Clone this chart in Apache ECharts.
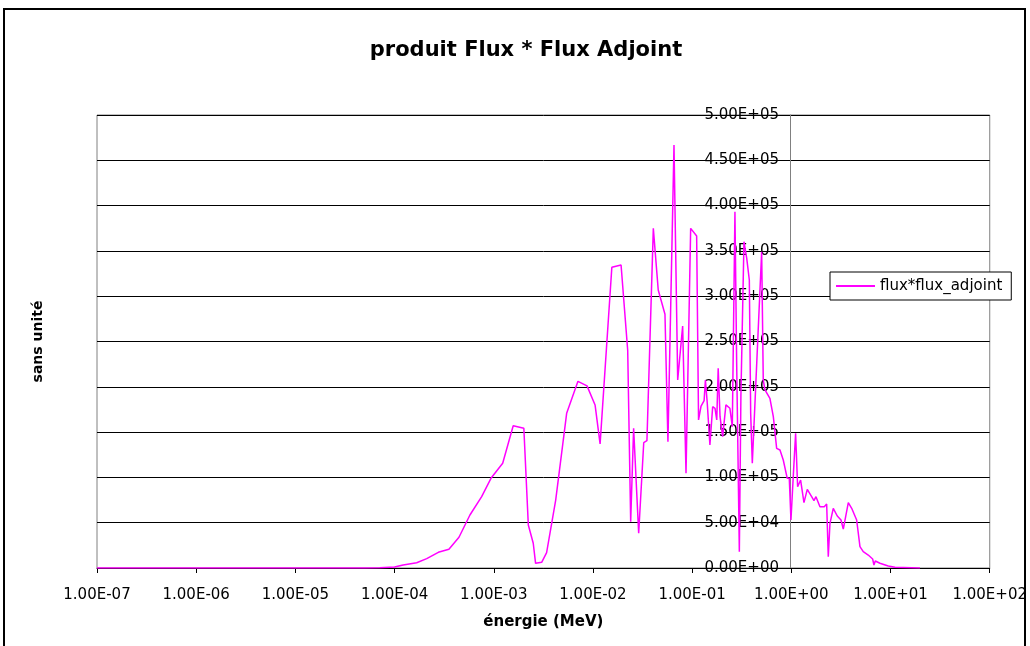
<!DOCTYPE html>
<html>
<head>
<meta charset="utf-8">
<script src="https://cdn.jsdelivr.net/npm/echarts@6/dist/echarts.min.js"></script>
<style>
html,body{margin:0;padding:0;background:#fff;}
#chart{width:1030px;height:646px;}
</style>
</head>
<body>
<div id="chart"></div>
<script>
// Energy (MeV) of each point
const energies = [
  1e-7, 1e-6, 1e-5, 5e-5, 7.1e-5, 1.0e-4, 1.22e-4, 1.67e-4, 2.11e-4, 2.76e-4,
  3.53e-4, 4.46e-4, 5.75e-4, 7.55e-4, 9.37e-4, 1.23e-3, 1.57e-3, 2.01e-3, 2.23e-3, 2.50e-3,
  2.64e-3, 3.04e-3, 3.41e-3, 4.21e-3, 5.43e-3, 7.06e-3, 8.71e-3, 1.05e-2, 1.18e-2, 1.55e-2,
  1.92e-2, 2.24e-2, 2.40e-2, 2.57e-2, 2.89e-2, 3.25e-2, 3.50e-2, 4.06e-2, 4.55e-2, 5.32e-2,
  5.70e-2, 6.56e-2, 7.15e-2, 8.02e-2, 8.67e-2, 9.66e-2, 0.111, 0.116, 0.123, 0.132,
  0.136, 0.142, 0.151, 0.161, 0.170, 0.177, 0.183, 0.191, 0.203, 0.219,
  0.240, 0.254, 0.270, 0.281, 0.299, 0.310, 0.333, 0.355, 0.377, 0.389,
  0.404, 0.502, 0.521, 0.542, 0.608, 0.658, 0.711, 0.768, 0.829, 0.909,
  0.953, 0.991, 1.045, 1.104, 1.157, 1.240, 1.340, 1.447, 1.602, 1.690,
  1.771, 1.942, 2.147, 2.270, 2.357, 2.451, 2.646, 2.752, 2.904, 3.166,
  3.340, 3.751, 4.057, 4.553, 4.917, 5.307, 5.961, 6.600, 6.804, 7.015,
  7.825, 9.48, 11.07, 19.8
];
// flux*flux_adjoint values
const fluxProduct = [
  0, 0, 0, 0, 300, 1200, 3300, 5800, 10300, 17300,
  20600, 33900, 58500, 78700, 99000, 115600, 157000, 154200, 47500, 27300,
  5200, 6300, 16900, 75000, 170700, 206000, 201000, 180000, 137000, 331900,
  334400, 240000, 51100, 154200, 38300, 138300, 140500, 374900, 306800, 280000,
  139400, 466900, 207500, 267100, 104500, 374900, 366400, 163400, 178800, 184700,
  207500, 181800, 135800, 178000, 176300, 163400, 220400, 167000, 145000, 180000,
  176300, 156000, 393300, 226000, 18000, 189000, 360200, 341800, 317900, 170700,
  115600, 349100, 207500, 196500, 187300, 167000, 132100, 130200, 119200, 99000,
  99000, 53000, 100800, 148600, 89700, 97100, 72100, 86800, 78700, 74300,
  78700, 67700, 67700, 70600, 12500, 49300, 65900, 65900, 57400, 53000,
  43000, 72100, 65900, 53000, 23500, 18000, 14300, 9900, 3300, 7700,
  5200, 2200, 800, 0
];
const xTickLabels = ['1.00E-07','1.00E-06','1.00E-05','1.00E-04','1.00E-03','1.00E-02','1.00E-01','1.00E+00','1.00E+01','1.00E+02'];
const yTickLabels = ['0.00E+00','5.00E+04','1.00E+05','1.50E+05','2.00E+05','2.50E+05','3.00E+05','3.50E+05','4.00E+05','4.50E+05','5.00E+05'];
const seriesName = 'flux*flux_adjoint';
const titleText = 'produit Flux * Flux Adjoint';
const xName = 'énergie (MeV)';
const yName = 'sans unité';

const seriesData = energies.map((e, i) => [e, fluxProduct[i]]);

const chart = echarts.init(document.getElementById('chart'), null, {renderer: 'canvas'});
chart.setOption({
  animation: false,
  backgroundColor: '#fff',
  title: {
    text: titleText,
    left: 521,
    top: 35,
    textAlign: 'center',
    textStyle: {fontFamily: 'DejaVu Sans', fontWeight: 'bold', fontSize: 21, color: '#000'}
  },
  graphic: [{
    type: 'rect',
    z: -1,
    shape: {x: 4, y: 9, width: 1021, height: 700},
    style: {fill: 'none', stroke: '#000', lineWidth: 2}
  }],
  legend: {
    left: 830,
    top: 272,
    padding: [6, 9, 6, 6],
    icon: 'rect',
    itemWidth: 39,
    itemHeight: 2,
    itemGap: 5,
    backgroundColor: '#fff',
    borderColor: '#000',
    borderWidth: 1,
    textStyle: {fontFamily: 'DejaVu Sans', fontSize: 15, color: '#000', lineHeight: 16},
    data: [seriesName]
  },
  grid: {
    left: 97, right: 40, top: 115, bottom: 78,
    show: true, borderColor: '#808080', borderWidth: 1, backgroundColor: 'transparent'
  },
  xAxis: {
    type: 'log',
    logBase: 10,
    min: 1e-7,
    max: 1e2,
    interval: 1,
    name: xName,
    nameLocation: 'middle',
    nameGap: 54,
    nameMoveOverlap: false,
    nameTextStyle: {fontFamily: 'DejaVu Sans', fontWeight: 'bold', fontSize: 15, color: '#000', verticalAlign: 'middle'},
    axisLine: {lineStyle: {color: '#000', width: 1}},
    axisTick: {show: true, length: 5, lineStyle: {color: '#000'}},
    minorTick: {show: false},
    splitLine: {show: false},
    axisLabel: {
      margin: 20,
      fontFamily: 'DejaVu Sans', fontSize: 15, color: '#000',
      formatter: function (v) {
        const idx = Math.round(Math.log10(v)) + 7;
        return xTickLabels[idx] !== undefined ? xTickLabels[idx] : '';
      }
    }
  },
  yAxis: {
    type: 'value',
    min: 0,
    max: 500000,
    interval: 50000,
    position: 'left',
    offset: -693,
    name: yName,
    nameLocation: 'middle',
    nameGap: 745,
    nameRotate: 90,
    nameMoveOverlap: false,
    nameTextStyle: {fontFamily: 'DejaVu Sans', fontWeight: 'bold', fontSize: 14, color: '#000'},
    axisLine: {show: true, lineStyle: {color: '#808080', width: 1}},
    axisTick: {show: true, length: 4, lineStyle: {color: '#000'}},
    splitLine: {show: true, lineStyle: {color: '#000', width: 1}},
    axisLabel: {
      margin: 11,
      fontFamily: 'DejaVu Sans', fontSize: 15, color: '#000',
      formatter: function (v) {
        const idx = Math.round(v / 50000);
        return yTickLabels[idx] !== undefined ? yTickLabels[idx] : '';
      }
    }
  },
  series: [{
    name: seriesName,
    type: 'line',
    data: seriesData,
    symbol: 'none',
    showSymbol: false,
    color: '#FF00FF',
    lineStyle: {color: '#FF00FF', width: 1.5},
    z: 3
  }]
});
</script>
</body>
</html>
